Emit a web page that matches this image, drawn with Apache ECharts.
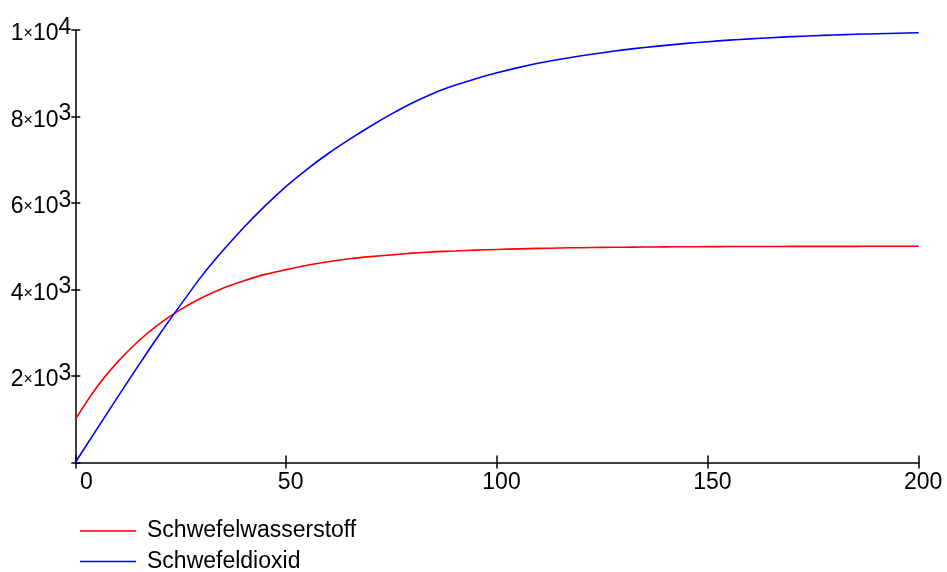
<!DOCTYPE html>
<html>
<head>
<meta charset="utf-8">
<script src="https://cdn.jsdelivr.net/npm/echarts@6/dist/echarts.min.js"></script>
<style>
html,body{margin:0;padding:0;background:#fff;}
#main{width:947px;height:572px;}
</style>
</head>
<body>
<div id="main"></div>
<script>
const timeValues = [0,5,10,15,20,25,30,35,40,45,50,55,60,65,70,75,80,85,90,95,100,105,110,115,120,125,130,135,140,145,150,155,160,165,170,175,180,185,190,195,200];
const schwefelwasserstoff = [1000,1730,2320,2810,3210,3540,3810,4030,4200,4350,4460,4560,4640,4710,4760,4800,4840,4870,4890,4910,4925,4940,4950,4960,4967,4973,4978,4982,4986,4989,4991,4993,4994,4995,4996,4997,4998,4998,4999,4999,5000];
const schwefeldioxid = [0,755,1505,2245,2965,3650,4315,4900,5440,5935,6385,6785,7145,7470,7775,8060,8320,8540,8720,8875,9010,9130,9235,9325,9405,9475,9540,9595,9645,9690,9730,9765,9795,9822,9846,9866,9884,9900,9914,9926,9937];
const seriesNames = ['Schwefelwasserstoff','Schwefeldioxid'];
const xTicks = [0,50,100,150,200];
const yTickLabels = {2000:['2','3'],4000:['4','3'],6000:['6','3'],8000:['8','3'],10000:['1','4']};

const FONT = 'Liberation Sans, Arial, sans-serif';
const chart = echarts.init(document.getElementById('main'));
const pair = arr => timeValues.map((t,i)=>[t,arr[i]]);

const yRich = {
  m:{fontFamily:FONT,fontSize:23,color:'#000',lineHeight:22,padding:[8,0,0,0]},
  x:{fontFamily:FONT,fontSize:16,color:'#000',lineHeight:22,padding:[8,0,0,0]},
  s:{fontFamily:FONT,fontSize:23,color:'#000',lineHeight:22,padding:[0,0,5,0]}
};
const legendBase = {
  orient:'vertical',left:75,padding:5,
  itemWidth:56,itemHeight:1.5,itemGap:0,
  textStyle:{fontFamily:FONT,fontSize:23,color:'#000',lineHeight:22,padding:[0,0,0,6]}
};

chart.setOption({
  animation:false,
  backgroundColor:'#fff',
  grid:{left:75.3,right:28.3,top:30,bottom:109.5,containLabel:false},
  xAxis:[{
    type:'value',min:0,max:200,interval:50,
    axisLine:{show:true,onZero:false,lineStyle:{color:'#000',width:1.5}},
    axisTick:{show:true,inside:false,length:6,lineStyle:{color:'#000',width:1.5}},
    splitLine:{show:false},
    axisLabel:{
      margin:9,
      formatter:v => v===0 ? '{z|0}' : '{a|'+v+'}',
      rich:{
        a:{fontFamily:FONT,fontSize:23,color:'#000',padding:[0,0,0,9]},
        z:{fontFamily:FONT,fontSize:23,color:'#000',padding:[0,0,0,22]}
      }
    }
  },{
    type:'value',min:0,max:200,interval:50,position:'bottom',
    axisLine:{show:false,onZero:false},
    axisTick:{show:true,inside:true,length:7,lineStyle:{color:'#000',width:1.5}},
    axisLabel:{show:false},splitLine:{show:false}
  }],
  yAxis:[{
    type:'value',min:0,max:10000,interval:2000,
    axisLine:{show:true,onZero:false,lineStyle:{color:'#000',width:1.5}},
    axisTick:{show:true,inside:false,length:4,lineStyle:{color:'#000',width:1.5}},
    splitLine:{show:false},
    axisLabel:{
      margin:4,
      formatter:v => {
        const p = yTickLabels[v];
        if(!p) return '';
        return '{m|'+p[0]+'}{x|×}{m|10}{s|'+p[1]+'}';
      },
      rich:yRich
    }
  },{
    type:'value',min:0,max:10000,interval:2000,position:'left',
    axisLine:{show:false,onZero:false},
    axisTick:{show:true,inside:true,length:5,lineStyle:{color:'#000',width:1.5}},
    axisLabel:{show:false},splitLine:{show:false}
  }],
  legend:[
    Object.assign({}, legendBase, {top:514.5, data:[{name:seriesNames[0],icon:'rect'}]}),
    Object.assign({}, legendBase, {top:545, data:[{name:seriesNames[1],icon:'rect'}]})
  ],
  series:[{
    name:seriesNames[0],type:'line',data:pair(schwefelwasserstoff),
    showSymbol:false,symbol:'none',smooth:0.3,
    color:'#ff0000',lineStyle:{color:'#ff0000',width:1.6},itemStyle:{color:'#ff0000'}
  },{
    name:seriesNames[1],type:'line',data:pair(schwefeldioxid),
    showSymbol:false,symbol:'none',smooth:0.3,
    color:'#0000ff',lineStyle:{color:'#0000ff',width:1.6},itemStyle:{color:'#0000ff'}
  }]
});
</script>
</body>
</html>
